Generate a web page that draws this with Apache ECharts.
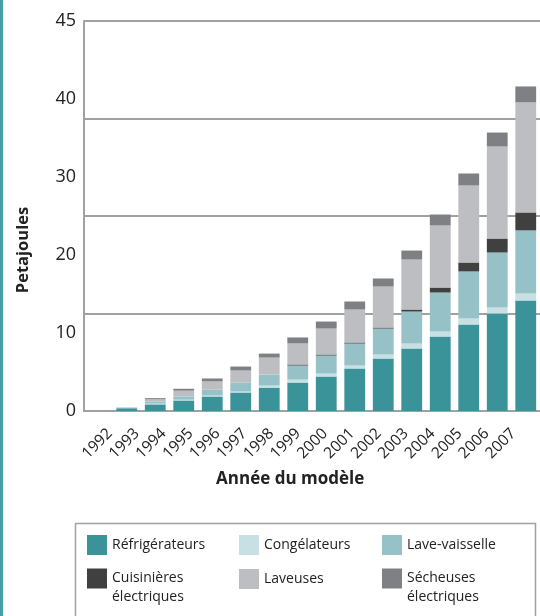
<!DOCTYPE html>
<html>
<head>
<meta charset="utf-8">
<script src="https://cdn.jsdelivr.net/npm/echarts@6/dist/echarts.min.js"></script>
<style>
  html, body { margin: 0; padding: 0; background: #fff; }
  #chart { width: 540px; height: 616px; }
</style>
</head>
<body>
<div id="chart"></div>
<script>
// data (petajoules)
const years = ["1992", "1993", "1994", "1995", "1996", "1997", "1998", "1999",
  "2000", "2001", "2002", "2003", "2004", "2005", "2006", "2007"];
const refrigerateurs = [0, 0.35, 0.85, 1.35, 1.86, 2.37, 3.0, 3.65, 4.42, 5.45, 6.73, 8.01, 9.55, 11.09, 12.5, 14.17];
const congelateurs = [0, 0, 0.1, 0.1, 0.13, 0.13, 0.26, 0.38, 0.38, 0.38, 0.51, 0.64, 0.64, 0.77, 0.77, 0.9];
const laveVaisselle = [0, 0.1, 0.25, 0.4, 0.77, 1.15, 1.41, 1.8, 2.31, 2.82, 3.33, 4.1, 5.0, 6.03, 7.05, 8.08];
const cuisinieres = [0, 0, 0, 0, 0, 0, 0, 0.13, 0.13, 0.13, 0.13, 0.26, 0.64, 1.15, 1.79, 2.31];
const laveuses = [0, 0, 0.3, 0.75, 1.03, 1.54, 2.18, 2.7, 3.33, 4.23, 5.26, 6.41, 7.95, 9.87, 11.8, 14.1];
const secheuses = [0, 0, 0.15, 0.25, 0.38, 0.51, 0.51, 0.77, 0.9, 1.03, 1.03, 1.15, 1.41, 1.54, 1.79, 2.05];
// the original axis prints 45 where 50 would be
const yTickValues = [0, 10, 20, 30, 40, 50];
const yTickLabels = ["0", "10", "20", "30", "40", "45"];

const names = ["Réfrigérateurs", "Congélateurs", "Lave-vaisselle",
  "Cuisinières électriques", "Laveuses", "Sécheuses électriques"];
const values = [refrigerateurs, congelateurs, laveVaisselle, cuisinieres, laveuses, secheuses];
const colors = ["#3a9399", "#c6e0e3", "#96c1c6", "#404040", "#bdbec2", "#7f8084"];

const font = "Open Sans";
const gray = "#a0a1a5";

// legend slots: 3 columns x 2 rows (two-line items start higher, an empty first line pads them)
const legendPos = [
  [87, 535], [239, 535], [382, 535],
  [87, 550], [239, 569], [382, 550]
];

const option = {
  animation: false,
  textStyle: { fontFamily: font },
  grid: [
    { left: 84, top: 21, width: 459, height: 390 },
    // year labels in the original are spaced a bit tighter than the bars
    { left: 96.5, top: 21, width: 430.4, height: 390 }
  ],
  xAxis: [
    {
      type: "category",
      data: years,
      axisLine: { lineStyle: { color: gray, width: 2 } },
      axisTick: { show: false },
      axisLabel: { show: false }
    },
    {
      type: "category",
      gridIndex: 1,
      data: years,
      axisLine: { show: false },
      axisTick: { show: false },
      axisLabel: {
        interval: 0,
        rotate: 45,
        margin: 20,
        color: "#222",
        fontSize: 15.5,
        fontFamily: font
      },
      name: "Année du modèle",
      nameLocation: "middle",
      nameGap: 60,
      nameTextStyle: {
        fontWeight: "bold", fontSize: 17, color: "#222", fontFamily: font,
        padding: [0, 43, 0, 0]
      }
    }
  ],
  yAxis: [
    {
      type: "value",
      min: 0,
      max: 50,
      interval: 12.5,
      axisLine: { show: true, lineStyle: { color: gray, width: 2 } },
      axisTick: { show: false },
      splitLine: { lineStyle: { color: gray, width: 2 } },
      axisLabel: {
        customValues: yTickValues,
        formatter: v => yTickLabels[yTickValues.indexOf(v)],
        color: "#222",
        fontSize: 18,
        margin: 8,
        fontFamily: font
      },
      name: "Petajoules",
      nameLocation: "middle",
      nameGap: 52,
      nameTextStyle: {
        fontWeight: "bold", fontSize: 16.5, color: "#222", fontFamily: font,
        padding: [0, 68, 0, 0]
      }
    },
    {
      type: "value",
      gridIndex: 1,
      min: 0,
      max: 50,
      show: false
    }
  ],
  legend: names.map((n, i) => ({
    data: [n],
    left: legendPos[i][0],
    top: legendPos[i][1],
    padding: 0,
    icon: "rect",
    itemWidth: 20,
    itemHeight: 20,
    selectedMode: false,
    formatter: name => (name.indexOf(" ") > 0 ? "\n" + name.replace(" ", "\n") : name),
    textStyle: {
      fontSize: 14,
      color: "#222",
      fontFamily: font,
      lineHeight: 19
    }
  })),
  graphic: [
    {
      type: "rect",
      left: 0,
      top: 0,
      shape: { width: 3, height: 616 },
      style: { fill: "#4a9fa4" }
    },
    {
      type: "rect",
      left: 73,
      top: 521,
      shape: { width: 460, height: 110 },
      style: { fill: "none", stroke: gray, lineWidth: 1.5 }
    }
  ],
  series: names.map((n, i) => ({
    name: n,
    type: "bar",
    stack: "total",
    barCategoryGap: "27%",
    data: values[i],
    itemStyle: { color: colors[i] }
  }))
};

const chart = echarts.init(document.getElementById("chart"));
chart.setOption(option);
</script>
</body>
</html>
